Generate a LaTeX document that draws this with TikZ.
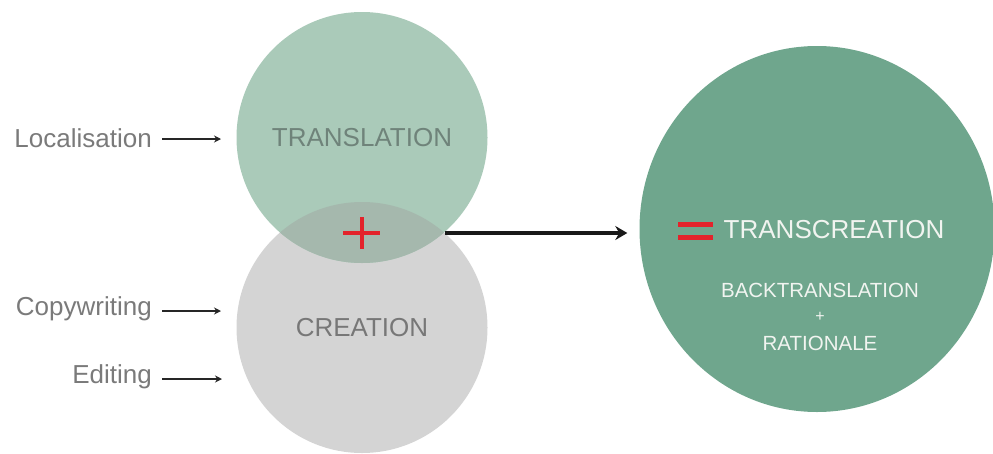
\documentclass[tikz,border=0pt]{standalone}
\usepackage{fontspec}
\setmainfont{Liberation Sans}
\usetikzlibrary{shapes.geometric,arrows.meta}

\definecolor{transgreen}{HTML}{AACAB9}
\definecolor{creagray}{HTML}{D4D4D4}
\definecolor{lensgray}{HTML}{A5B8AD}
\definecolor{resultgreen}{HTML}{6FA68D}
\definecolor{signred}{HTML}{E3232B}
\definecolor{labelgray}{HTML}{7A7A7A}
\definecolor{transtext}{HTML}{6F837A}
\definecolor{creatext}{HTML}{777777}
\definecolor{paletext}{HTML}{F1F4F0}

\tikzset{
  bigfont/.style={font=\fontsize{26}{28}\selectfont},
  smallfont/.style={font=\fontsize{20.5}{22}\selectfont},
  sidelabel/.style={bigfont, text=labelgray, anchor=east, inner sep=0pt},
  feeder/.style={draw=black!85, line width=2pt, -{Stealth[length=7pt,width=7pt]}, shorten <=10pt},
  bubble/.style={circle, minimum size=251pt, inner sep=0pt, bigfont},
  mainarrow/.style={draw=black!90, line width=3.6pt, -{Stealth[length=12pt,width=14pt]}, shorten >=12pt},
  signbar/.style={draw=signred, line cap=butt}
}

\begin{document}
\begin{tikzpicture}[x=1pt, y=-1pt]
  \useasboundingbox (0,0) rectangle (993,453);

  % the two source circles
  \node[bubble, fill=creagray, text=creatext] (crea) at (362,327.5) {CREATION};
  \node[bubble, fill=transgreen, text=transtext] (trans) at (362,137.5) {TRANSLATION};

  % shared lens where both circles meet
  \begin{scope}
    \clip (362,137.5) circle (125.5);
    \fill[lensgray] (362,327.5) circle (125.5);
  \end{scope}

  % the plus sign in the lens
  \coordinate (plusc) at (362,232.5);
  \draw[signbar, line width=4pt] ([xshift=-19pt]plusc) -- ([xshift=18pt]plusc);
  \draw[signbar, line width=4pt] ([yshift=-16pt]plusc) -- ([yshift=16pt]plusc);

  % result circle
  \node[ellipse, fill=resultgreen, minimum width=355pt, minimum height=366pt, inner sep=0pt] (result) at (817,229) {};

  % labels inside the result circle
  \node[bigfont, text=paletext, inner sep=0pt] (tc) at (834,230) {TRANSCREATION};
  \node[smallfont, text=paletext, inner sep=0pt] (back) at (820,290) {BACKTRANSLATION};
  \node[font=\fontsize{16}{18}\selectfont, text=paletext, inner sep=0pt] (and) at (820,317) {+};
  \node[smallfont, text=paletext, inner sep=0pt] (rat) at (820,343) {RATIONALE};

  % the equals sign before TRANSCREATION
  \coordinate (eqc) at (696,230.5);
  \draw[signbar, line width=5pt] ([xshift=-18pt,yshift=-6.5pt]eqc) -- ([xshift=17pt,yshift=-6.5pt]eqc);
  \draw[signbar, line width=5pt] ([xshift=-18pt,yshift=6.5pt]eqc) -- ([xshift=17pt,yshift=6.5pt]eqc);

  % arrow from the lens to the result
  \coordinate (lensR) at (445,233);
  \draw[mainarrow] (lensR) -- (lensR -| result.west);

  % feeding activities on the left
  \node[sidelabel] (loc) at (152,138) {Localisation};
  \node[sidelabel] (copy) at (152,309) {Copywriting};
  \node[sidelabel] (edit) at (152,377) {Editing};
  \coordinate (locEnd) at (221,139);
  \coordinate (copyEnd) at (221,311);
  \coordinate (editEnd) at (222,379);
  \draw[feeder] (loc.east |- locEnd) -- (locEnd);
  \draw[feeder] (copy.east |- copyEnd) -- (copyEnd);
  \draw[feeder] (edit.east |- editEnd) -- (editEnd);
\end{tikzpicture}
\end{document}
